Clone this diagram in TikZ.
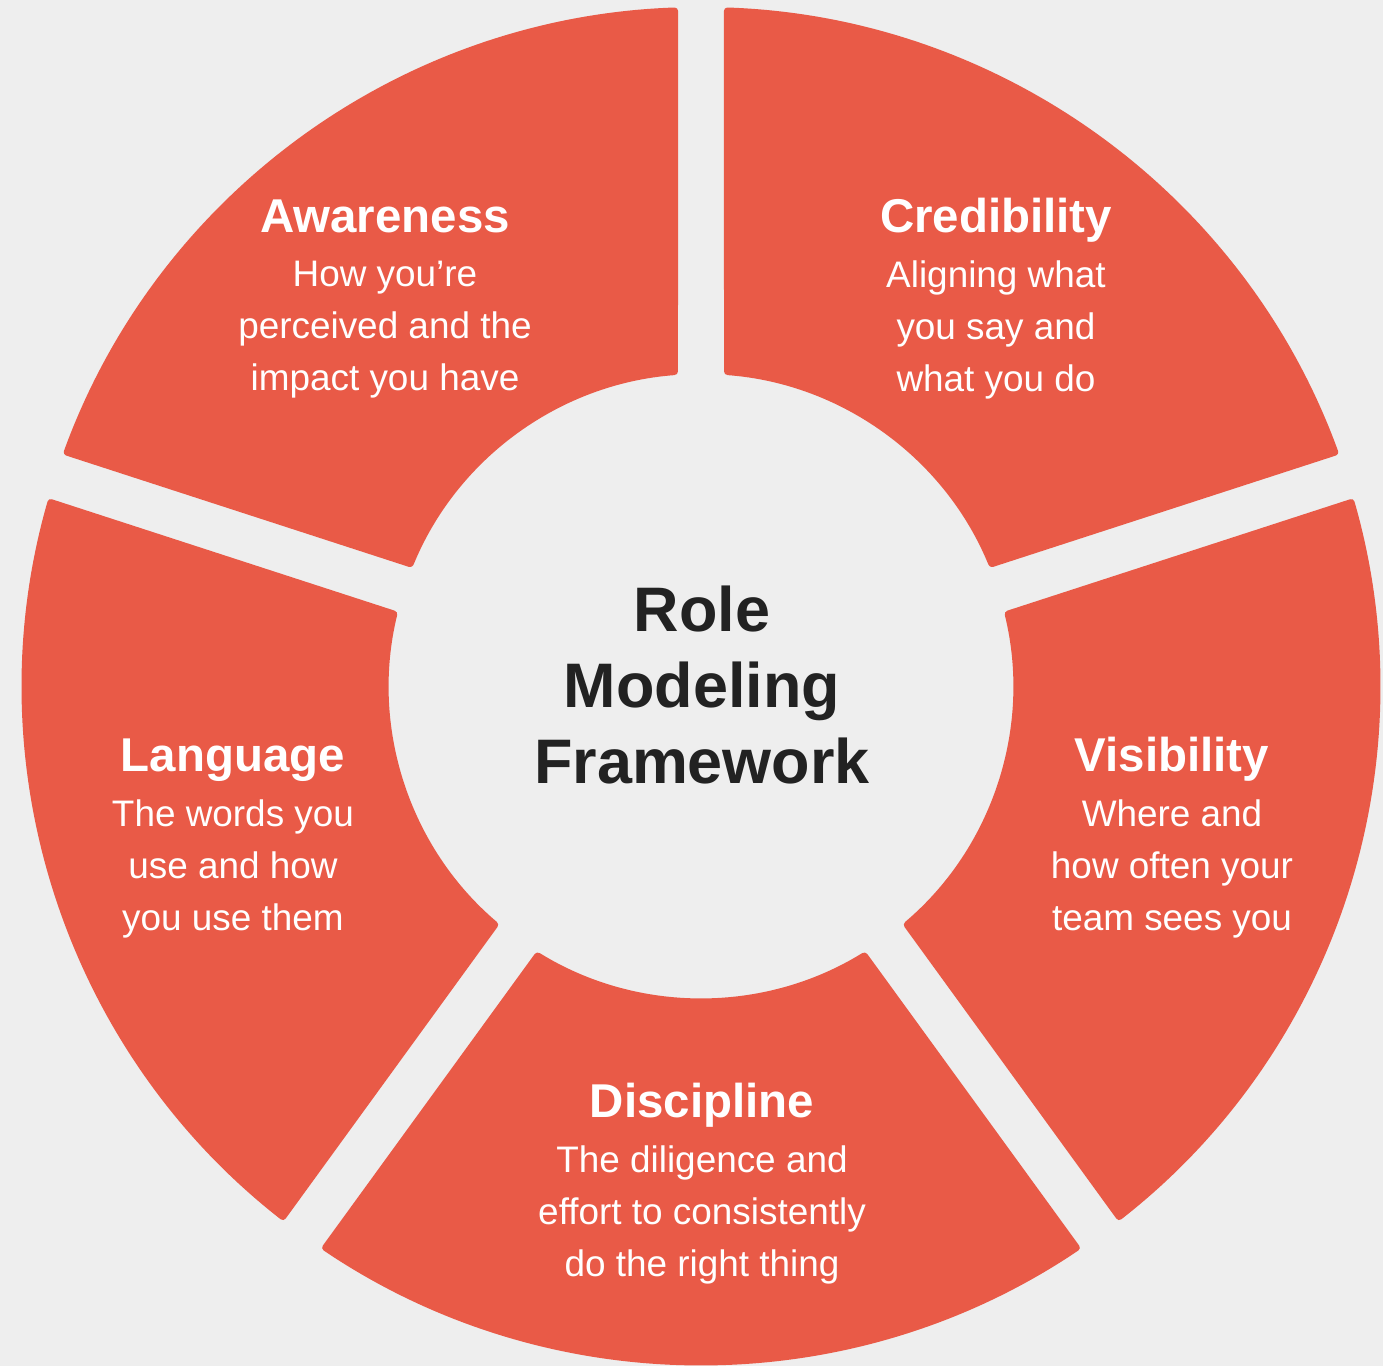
\documentclass[tikz,border=0pt]{standalone}
\usepackage{fontspec}
\setmainfont{Liberation Sans}
\usepackage{xcolor}
\usepackage{tikz}
\usetikzlibrary{positioning}

\definecolor{segred}{HTML}{E95A47}
\definecolor{paper}{HTML}{EEEEEE}
\definecolor{ink}{HTML}{222222}

\begin{document}
\begin{tikzpicture}[auto, >=latex]
		\tikzstyle{segment} = [fill=segred, rounded corners=1pt]
		\tikzstyle{heading} = [text=white, anchor=base, font=\fontsize{13.5}{16}\selectfont\bfseries]
		\tikzstyle{desc} = [text=white, align=center, font=\fontsize{10.5}{14.8}\selectfont]
		\tikzstyle{hub} = [text=ink, align=center, font=\fontsize{17.9}{21.6}\selectfont\bfseries]
		
		\fill[paper] (-7.01, -6.80) rectangle (6.82, 6.86);
		\useasboundingbox (-7.01, -6.80) rectangle (6.82, 6.86);
		
		% ring, gaps at 90, 18, -54, -126 and 162 degrees
		\fill[segment] (160.06:6.79) arc[start angle=160.06, end angle=91.94, radius=6.79]
			-- (94.23:3.12) arc[start angle=94.23, end angle=157.77, radius=3.12] -- cycle;
		\fill[segment] (88.06:6.79) arc[start angle=88.06, end angle=19.94, radius=6.79]
			-- (22.23:3.12) arc[start angle=22.23, end angle=85.77, radius=3.12] -- cycle;
		\fill[segment] (16.06:6.79) arc[start angle=16.06, end angle=-52.06, radius=6.79]
			-- (-49.77:3.12) arc[start angle=-49.77, end angle=13.77, radius=3.12] -- cycle;
		\fill[segment] (-55.94:6.79) arc[start angle=-55.94, end angle=-124.06, radius=6.79]
			-- (-121.77:3.12) arc[start angle=-121.77, end angle=-58.23, radius=3.12] -- cycle;
		\fill[segment] (-127.94:6.79) arc[start angle=-127.94, end angle=-196.06, radius=6.79]
			-- (-193.77:3.12) arc[start angle=-193.77, end angle=-130.23, radius=3.12] -- cycle;
		
		\node[hub]		at (0.01, 0.01)		(core)	{Role\\Modeling\\Framework};
		
		\node[heading]	at (-3.16, 4.53)	(aw)	{Awareness};
		\node[desc]		at (-3.16, 3.56)	(awd)	{How you’re\\perceived and the\\impact you have};
		
		\node[heading]	at (2.95, 4.53)		(cr)	{Credibility};
		\node[desc]		at (2.95, 3.56)		(crd)	{Aligning what\\you say and\\what you do};
		
		\node[heading]	at (-4.68, -0.86)	(la)	{Language};
		\node[desc]		at (-4.68, -1.83)	(lad)	{The words you\\use and how\\you use them};
		
		\node[heading]	at (4.71, -0.86)	(vi)	{Visibility};
		\node[desc]		at (4.71, -1.83)	(vid)	{Where and\\how often your\\team sees you};
		
		\node[heading]	at (0.01, -4.32)	(di)	{Discipline};
		\node[desc]		at (0.01, -5.29)	(did)	{The diligence and\\effort to consistently\\do the right thing};
		
	\end{tikzpicture}
\end{document}
